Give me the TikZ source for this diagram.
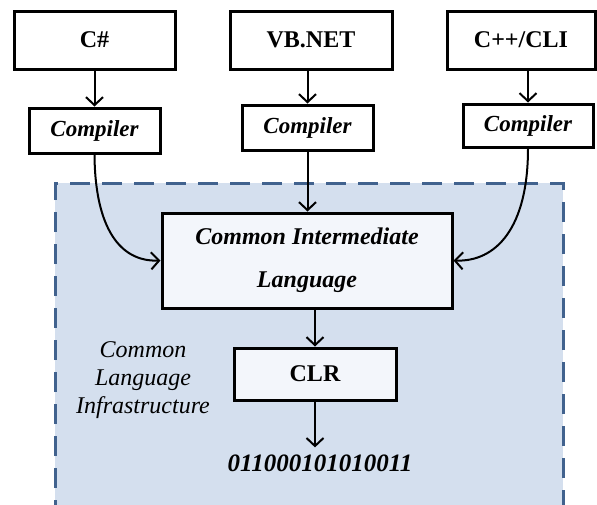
\documentclass[tikz,border=0pt]{standalone}
\usepackage{fontspec}
\setmainfont{Liberation Serif}
\usetikzlibrary{arrows.meta}
\definecolor{cliblue}{HTML}{D4DFEE}
\definecolor{cliedge}{HTML}{41628E}
\definecolor{boxfill}{HTML}{F3F6FB}
\tikzset{
  langbox/.style={draw, line width=3pt, fill=white, inner sep=0pt,
    font=\fontsize{24}{28}\selectfont\bfseries},
  compbox/.style={langbox, font=\fontsize{23}{28}\selectfont\bfseries\itshape},
  clibox/.style={langbox, fill=boxfill},
  flow/.style={line width=2pt, -{Straight Barb[length=8pt,width=17pt]}}
}
\begin{document}
\begin{tikzpicture}[x=1pt,y=-1pt]
		\useasboundingbox (0,0) rectangle (597,504);
		% CLI region
		\fill[cliblue] (55,183) rectangle (563,520);
		\draw[cliedge, line width=3pt, dash pattern=on 20pt off 12pt] (55,520) -- (55,183) -- (563,183) -- (563,520);
		
		% Languages
		\node[langbox, minimum width=161pt, minimum height=58pt] (cs) at (94.5,40) {C\#};
		\node[langbox, minimum width=162pt, minimum height=58pt] (vb) at (311,40) {VB.NET};
		\node[langbox, minimum width=148pt, minimum height=58pt] (cpp) at (521,40) {C++/CLI};
		
		% Compilers
		\node[compbox, minimum width=131pt, minimum height=45pt] (cscomp) at (94.5,130.5) {Compiler};
		\node[compbox, minimum width=131pt, minimum height=45pt] (vbcomp) at (307.5,127.5) {Compiler};
		\node[compbox, minimum width=130pt, minimum height=43pt] (cppcomp) at (528,125.5) {Compiler};
		
		\draw[flow] (cs.south -| cscomp.north) -- (cscomp.north);
		\draw[flow] (vb.south -| vbcomp.north) -- (vbcomp.north);
		\draw[flow] (cpp.south -| cppcomp.north) -- (cppcomp.north);
		
		% CIL and CLR
		\node[clibox, minimum width=290pt, minimum height=95pt, align=center,
		  font=\fontsize{24}{43}\selectfont\bfseries\itshape] (cil) at (307,260.5) {Common Intermediate\\Language};
		\node[clibox, minimum width=162pt, minimum height=52pt] (clr) at (315,374) {CLR};
		\node[font=\fontsize{25}{28}\selectfont\bfseries\itshape, inner sep=0pt] (bin) at (320,463) {011000101010011};
		\node[font=\fontsize{24}{28}\selectfont\itshape, align=center, inner sep=0pt] (cli) at (143,380) {Common\\Language\\Infrastructure};
		
		\draw[flow] (cscomp.south) .. controls (95,228) and (120,262) .. (cil.west);
		\draw[flow] (vbcomp.south) -- (vbcomp.south |- cil.north);
		\draw[flow] (cppcomp.south) .. controls (528,228) and (496,262) .. (cil.east);
		\draw[flow] (cil.south -| clr.north) -- (clr.north);
		\draw[flow] (clr.south) -- ([yshift=7pt]clr.south |- bin.north);
	\end{tikzpicture}
\end{document}
